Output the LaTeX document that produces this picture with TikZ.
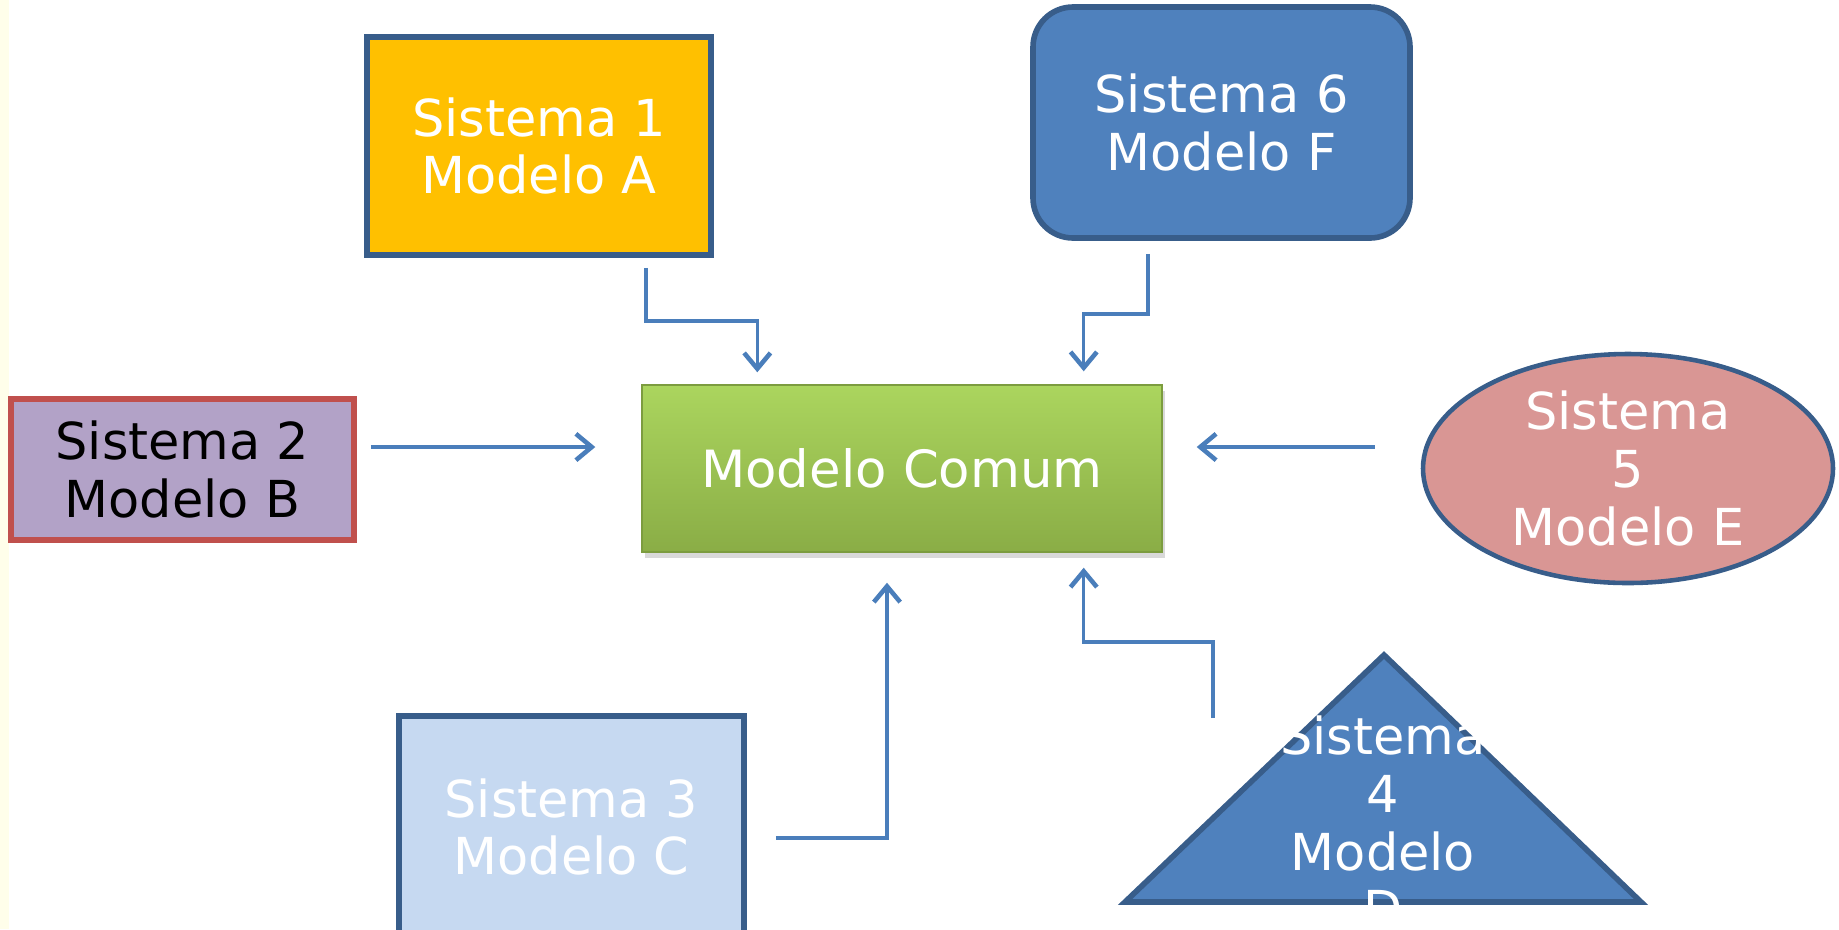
\documentclass[tikz,border=0pt]{standalone}
\usepackage{fontspec}
\setmainfont{DejaVu Sans}
\usepackage{tikz}
\usetikzlibrary{arrows.meta,shapes,shadows,calc}
\definecolor{cream}{HTML}{FFFEEA}
\definecolor{bord}{HTML}{385D8A}
\definecolor{gold}{HTML}{FFC000}
\definecolor{lilac}{HTML}{B2A2C7}
\definecolor{brick}{HTML}{C0504D}
\definecolor{pale}{HTML}{C6D9F1}
\definecolor{steel}{HTML}{4F81BD}
\definecolor{rose}{HTML}{D99694}
\definecolor{linkblue}{HTML}{4A7EBB}
\definecolor{gtop}{HTML}{ABD55E}
\definecolor{gbot}{HTML}{8AAD46}
\tikzset{sys/.style={rectangle,draw=bord,line width=1.6pt,text=white,align=center,inner sep=0pt,font=\fontsize{14.5pt}{16.4pt}\selectfont},
mc/.style={rectangle,top color=gtop,bottom color=gbot,draw=gbot!90!black,line width=0.4pt,text=white,inner sep=0pt,font=\fontsize{14.6pt}{16.4pt}\selectfont,drop shadow={opacity=0.3,shadow xshift=0.03cm,shadow yshift=-0.06cm}},
lnk/.style={draw=linkblue,line width=1pt,-{Straight Barb[length=4.5pt,width=7.5pt,line width=1.3pt]}}}

\begin{document}
\begin{tikzpicture}
\useasboundingbox (0,0) rectangle (18.39,-9.29);
\clip (0,0) rectangle (18.39,-9.29);
\fill[cream] (0,0) rectangle (0.09,-9.29);
\node[mc,minimum width=5.2cm,minimum height=1.67cm] (mc) at (9.02,-4.685) {Modelo Comum};
\node[sys,fill=gold,minimum width=3.44cm,minimum height=2.18cm] (s1) at (5.39,-1.46) {Sistema 1\\Modelo A};
\node[sys,fill=lilac,draw=brick,text=black,minimum width=3.43cm,minimum height=1.41cm] (s2) at (1.825,-4.695) {Sistema 2\\Modelo B};
\node[sys,fill=pale,minimum width=3.45cm,minimum height=2.22cm] (s3) at (5.715,-8.27) {Sistema 3\\Modelo C};
\draw[sys,fill=steel] (11.25,-9.02) -- (13.84,-6.55) -- (16.41,-9.02) -- cycle;
\node[sys,draw=none] (s4) at (13.83,-8.22) {Sistema\\4\\Modelo\\D};
\node[sys,ellipse,fill=rose,line width=1.3pt,minimum width=4.1cm,minimum height=2.29cm] (s5) at (16.28,-4.685) {Sistema\\5\\Modelo E};
\node[sys,fill=steel,rounded corners=0.4cm,minimum width=3.77cm,minimum height=2.31cm] (s6) at (12.215,-1.225) {Sistema 6\\Modelo F};
\draw[lnk] ([xshift=-0.68cm,yshift=-0.1cm]s1.south east) -- ++(0,-0.53) -| ([xshift=1.16cm,yshift=0.12cm]mc.north west);
\draw[lnk] ([xshift=0.14cm,yshift=0.225cm]s2.east) -- ([xshift=-0.46cm,yshift=0.215cm]mc.west);
\draw[lnk] ([xshift=0.29cm,yshift=-0.11cm]s3.east) -| ([xshift=-0.15cm,yshift=-0.3cm]mc.south);
\draw[lnk] ([xshift=-1.7cm,yshift=1.04cm]s4.center) -- ++(0,0.76) -| ([xshift=-0.79cm,yshift=-0.15cm]mc.south east);
\draw[lnk] ([xshift=-0.46cm,yshift=0.215cm]s5.west) -- ([xshift=0.34cm,yshift=0.215cm]mc.east);
\draw[lnk] ([xshift=-0.735cm,yshift=-0.13cm]s6.south) -- ++(0,-0.6) -| ([xshift=-0.79cm,yshift=0.13cm]mc.north east);
\end{tikzpicture}
\end{document}
